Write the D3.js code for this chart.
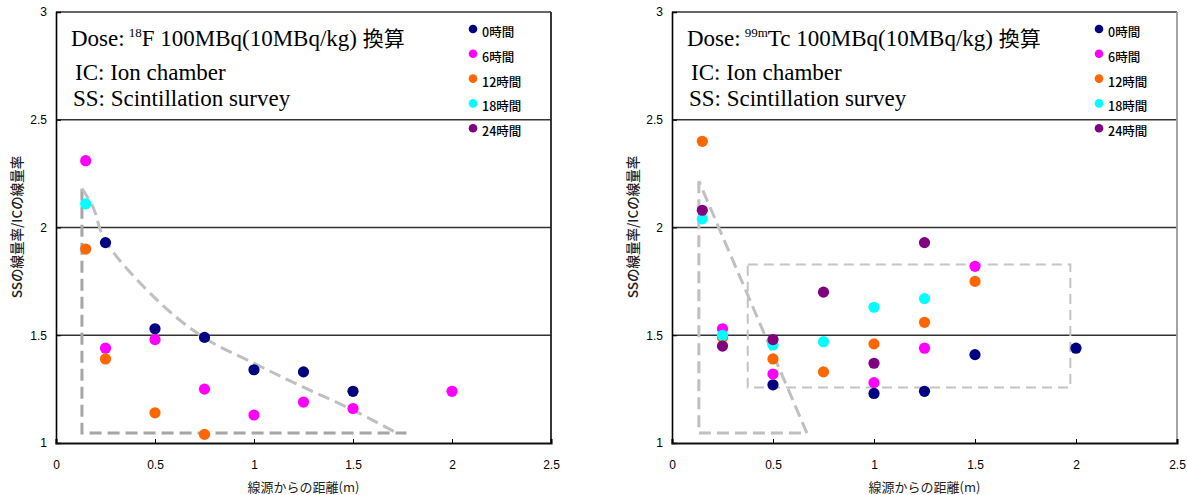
<!DOCTYPE html>
<html>
<head>
<meta charset="utf-8">
<script src="https://cdn.jsdelivr.net/npm/d3@7"></script>
<style>
  html, body { margin: 0; padding: 0; background: #fff; }
  svg { display: block; }
</style>
</head>
<body>
<svg id="chart" width="1187" height="495"></svg>
<script>
// Axis ticks
const xTicks = [0, 0.5, 1, 1.5, 2, 2.5];
const yTicks = [1, 1.5, 2, 2.5, 3];
const gridValues = [1.5, 2, 2.5, 3];

// Legend entries (elapsed time after administration)
const seriesNames = ["0時間", "6時間", "12時間", "18時間", "24時間"];
const seriesColors = ["#000080", "#ff00ff", "#ff6600", "#00ffff", "#800080"];

// 18F panel: [distance (m), SS/IC dose-rate ratio]
const f18_h0  = [[0.25, 1.93], [0.5, 1.53], [0.75, 1.49], [1.0, 1.34], [1.25, 1.33], [1.5, 1.24]];
const f18_h6  = [[0.15, 2.31], [0.25, 1.44], [0.5, 1.48], [0.75, 1.25], [1.0, 1.13], [1.25, 1.19], [1.5, 1.16], [2.0, 1.24]];
const f18_h12 = [[0.15, 1.90], [0.25, 1.39], [0.5, 1.14], [0.75, 1.04]];
const f18_h18 = [[0.15, 2.11]];
const f18_h24 = [];

// 99mTc panel
const tc_h0  = [[0.5, 1.27], [1.0, 1.23], [1.25, 1.24], [1.5, 1.41], [2.0, 1.44]];
const tc_h6  = [[0.25, 1.53], [0.5, 1.32], [1.0, 1.28], [1.25, 1.44], [1.5, 1.82]];
const tc_h12 = [[0.15, 2.40], [0.25, 1.49], [0.5, 1.39], [0.75, 1.33], [1.0, 1.46], [1.25, 1.56], [1.5, 1.75]];
const tc_h18 = [[0.15, 2.04], [0.25, 1.50], [0.5, 1.455], [0.75, 1.47], [1.0, 1.63], [1.25, 1.67]];
const tc_h24 = [[0.15, 2.08], [0.25, 1.45], [0.5, 1.48], [0.75, 1.70], [1.0, 1.37], [1.25, 1.93]];

// Dashed guide outlines (data coordinates)
const f18_frame = [[0.131, 2.18], [0.131, 1.046], [1.77, 1.046]];
const f18_curve = [[0.131, 2.18], [0.187, 2.095], [0.247, 1.942], [0.51, 1.664], [0.742, 1.492], [1.0, 1.37], [1.247, 1.26], [1.5, 1.153], [1.722, 1.046]];
const tc_triangle = [[0.133, 2.215], [0.133, 1.046], [0.668, 1.046], [0.133, 2.215]];
const tc_box = [[0.375, 1.828], [1.972, 1.828], [1.972, 1.257], [0.375, 1.257], [0.375, 1.828]];

const svg = d3.select("#chart");
svg.append("rect").attr("width", 1187).attr("height", 495).attr("fill", "#fff");

const panels = [
  {
    left: 56, right: 551, iso: "18", elem: "F",
    series: [f18_h0, f18_h6, f18_h12, f18_h18, f18_h24],
    frameColor: "#222",
    guides: [
      { pts: f18_frame, color: "#a6a6a6", width: 3, dash: "12,6", curve: d3.curveLinear },
      { pts: f18_curve, color: "#c0c0c0", width: 3, dash: "12,6", curve: d3.curveCatmullRom }
    ]
  },
  {
    left: 672, right: 1177, iso: "99m", elem: "Tc",
    series: [tc_h0, tc_h6, tc_h12, tc_h18, tc_h24],
    frameColor: "#9a9a9a",
    guides: [
      { pts: tc_triangle, color: "#c0c0c0", width: 3, dash: "12,6", curve: d3.curveLinear },
      { pts: tc_box, color: "#c4c4c4", width: 2, dash: "10,6", curve: d3.curveLinear }
    ]
  }
];

const plotTop = 12, plotBottom = 443;

panels.forEach(p => {
  const x = d3.scaleLinear().domain([0, 2.5]).range([p.left, p.right]);
  const y = d3.scaleLinear().domain([1, 3]).range([plotBottom, plotTop]);
  const g = svg.append("g");

  // horizontal grid lines (the 3.0 line closes the top of the frame)
  g.selectAll("line.grid").data(gridValues).join("line")
    .attr("class", "grid")
    .attr("x1", p.left).attr("x2", p.right)
    .attr("y1", d => y(d)).attr("y2", d => y(d))
    .attr("stroke", "#333").attr("stroke-width", 1.3);

  // right edge of the plot area
  g.append("line")
    .attr("x1", p.right).attr("x2", p.right)
    .attr("y1", plotTop).attr("y2", plotBottom)
    .attr("stroke", p.frameColor).attr("stroke-width", 1.8);

  // y axis
  const yAxis = g.append("g").attr("transform", `translate(${p.left},0)`)
    .call(d3.axisRight(y).tickValues(yTicks).tickSize(5).tickFormat(d3.format("")));
  yAxis.select(".domain").attr("stroke", "#000").attr("stroke-width", 1.6);
  yAxis.selectAll(".tick line").attr("stroke", "#000");
  yAxis.selectAll(".tick text")
    .attr("x", -9).attr("text-anchor", "end")
    .attr("font-family", "'Liberation Sans', Arial, sans-serif")
    .attr("font-size", 12).attr("fill", "#000");

  // x axis
  const xAxis = g.append("g").attr("transform", `translate(0,${plotBottom})`)
    .call(d3.axisTop(x).tickValues(xTicks).tickSize(4).tickFormat(d3.format("")));
  xAxis.select(".domain").attr("stroke", "#111").attr("stroke-width", 2.2);
  xAxis.selectAll(".tick line").attr("stroke", "#000");
  xAxis.selectAll(".tick text")
    .attr("y", 22).attr("dy", "0.32em")
    .attr("font-family", "'Liberation Sans', Arial, sans-serif")
    .attr("font-size", 12).attr("fill", "#000");

  // axis titles
  g.append("text")
    .attr("x", (p.left + p.right) / 2).attr("y", 492)
    .attr("text-anchor", "middle")
    .attr("font-family", "'Noto Sans CJK JP', sans-serif")
    .attr("font-size", 13).attr("fill", "#222")
    .text("線源からの距離(m)");
  g.append("text")
    .attr("transform", `translate(${p.left - 34},${227}) rotate(-90)`)
    .attr("text-anchor", "middle")
    .attr("font-family", "'Noto Sans CJK JP', sans-serif")
    .attr("font-size", 13.5).attr("font-weight", 500).attr("fill", "#222")
    .text("SSの線量率/ICの線量率");

  // dashed guide outlines
  p.guides.forEach(gd => {
    g.append("path")
      .attr("d", d3.line().x(d => x(d[0])).y(d => y(d[1])).curve(gd.curve)(gd.pts))
      .attr("fill", "none").attr("stroke", gd.color)
      .attr("stroke-width", gd.width).attr("stroke-dasharray", gd.dash);
  });

  // data points
  p.series.forEach((s, i) => {
    g.selectAll(null).data(s).join("circle")
      .attr("cx", d => x(d[0])).attr("cy", d => y(d[1]))
      .attr("r", 5.6).attr("fill", seriesColors[i]);
  });

  // annotation text
  const tx = p.left + 15;
  const serif = "'Liberation Serif', 'Times New Roman', serif";
  const t1 = g.append("text").attr("x", tx).attr("y", 46)
    .attr("font-family", serif).attr("font-size", 23).attr("fill", "#000");
  t1.append("tspan").text("Dose:");
  t1.append("tspan").attr("dx", 4).attr("dy", -9).attr("font-size", 13).text(p.iso);
  t1.append("tspan").attr("dy", 9).text(p.elem + " 100MBq(10MBq/kg) ");
  t1.append("tspan").attr("font-family", "'Noto Sans CJK JP', sans-serif").attr("font-size", 21).text("換算");

  g.append("text").attr("x", tx + 4).attr("y", 80)
    .attr("font-family", serif).attr("font-size", 23).attr("fill", "#000")
    .text("IC: Ion chamber");
  g.append("text").attr("x", tx + 2).attr("y", 106)
    .attr("font-family", serif).attr("font-size", 23).attr("fill", "#000")
    .text("SS: Scintillation survey");

  // legend
  const lg = g.append("g").attr("transform", `translate(${p.right - 78},0)`);
  seriesNames.forEach((name, i) => {
    const cy = 29 + i * 24.8;
    lg.append("circle").attr("cx", 0).attr("cy", cy).attr("r", 4.3).attr("fill", seriesColors[i]);
    lg.append("text").attr("x", 9).attr("y", cy + 8)
      .attr("font-family", "'Noto Sans CJK JP', sans-serif")
      .attr("font-size", 12.5).attr("font-weight", 500).attr("fill", "#000")
      .text(name);
  });
});
</script>
</body>
</html>
